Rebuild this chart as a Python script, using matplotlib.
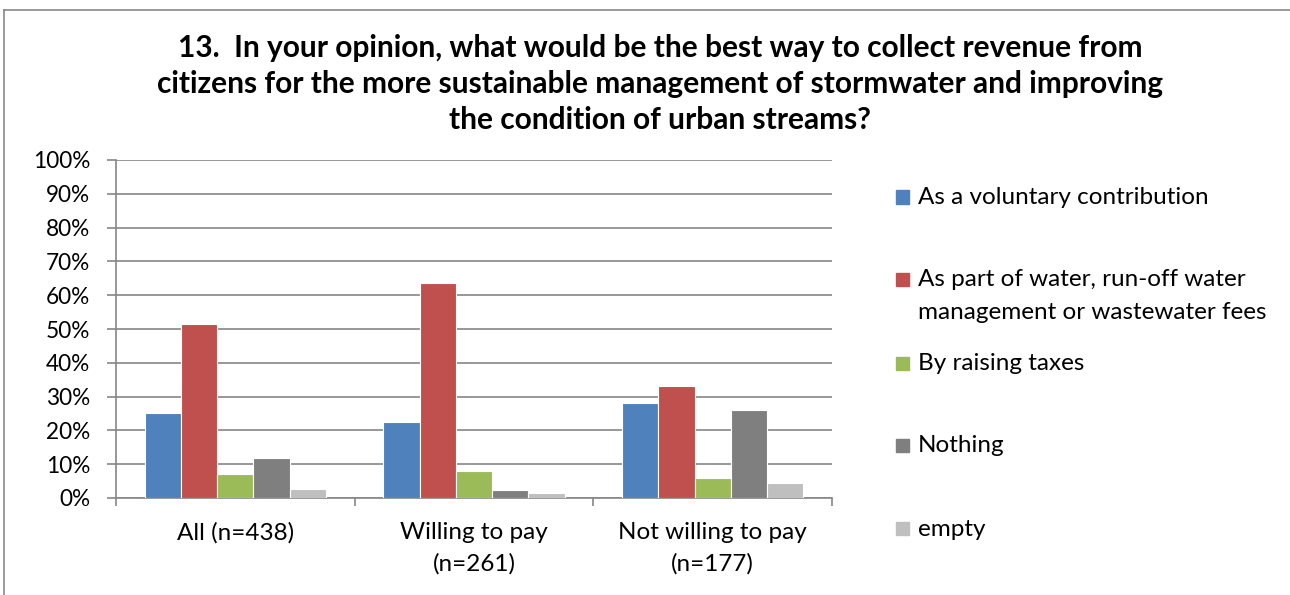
import matplotlib.pyplot as plt
from matplotlib.patches import Rectangle
from matplotlib.lines import Line2D
import numpy as np

plt.rcParams['font.family'] = ['Lato', 'DejaVu Sans']

groups = ["All (n=438)", "Willing to pay\n(n=261)", "Not willing to pay\n(n=177)"]
series = ["As a voluntary contribution",
          "As part of water, run-off water\nmanagement or wastewater fees",
          "By raising taxes",
          "Nothing",
          "empty"]
voluntary = [25.1, 22.6, 28.2]
fees = [51.4, 63.6, 33.0]
taxes = [7.1, 8.0, 5.8]
nothing = [11.9, 2.3, 26.0]
empty = [2.7, 1.5, 4.5]
colors = ["#4F81BD", "#C0504D", "#9BBB59", "#7F7F7F", "#BFBFBF"]

values = [voluntary, fees, taxes, nothing, empty]

W, H = 1290, 595
fig = plt.figure(figsize=(W / 100, H / 100), dpi=100)
ax = fig.add_axes([116 / W, 1 - 498 / H, (832 - 116) / W, (498 - 160) / H])

grey = "#868686"
x = np.arange(len(groups))
w = 0.152
for i, (vals, c) in enumerate(zip(values, colors)):
    ax.bar(x + (i - 2) * w, vals, w, color=c, edgecolor="white", linewidth=0.8, zorder=3)

ax.set_xlim(-0.5, 2.5)
ax.set_ylim(0, 100)
ax.set_yticks(np.arange(0, 101, 10))
ax.set_yticklabels([f"{v}%" for v in range(0, 101, 10)])
ax.yaxis.grid(True, color=grey, linewidth=1.2, zorder=0)
ax.set_axisbelow(True)

ax.set_xticks(x)
ax.set_xticklabels(groups, linespacing=1.62)
ax.set_xticks(np.arange(-0.5, 3, 1), minor=True)
ax.tick_params(axis="x", which="major", length=0, pad=17, labelsize=17.5)
ax.tick_params(axis="x", which="minor", length=6, color=grey, width=1.2, direction="out")
ax.tick_params(axis="y", length=6.5, color=grey, width=1.2, pad=12, labelsize=16.3)

for s in ["top", "right"]:
    ax.spines[s].set_visible(False)
for s in ["left", "bottom"]:
    ax.spines[s].set_color(grey)
    ax.spines[s].set_linewidth(1.2)

fig.text(660 / W, 1 - 84 / H,
         "13.  In your opinion, what would be the best way to collect revenue from\n"
         "citizens for the more sustainable management of stormwater and improving\n"
         "the condition of urban streams?",
         ha="center", va="center", fontsize=21.5, fontweight="bold", linespacing=1.36)

# legend drawn by hand, square aligned with the first text line
leg_y = [197, 279, 363, 445, 528]
for name, c, yy in zip(series, colors, leg_y):
    fig.patches.append(Rectangle((896 / W, 1 - (yy + 6.5) / H), 13 / W, 13 / H,
                                 transform=fig.transFigure, color=c))
    fig.text(918 / W, 1 - (yy - 9.5) / H, name, ha="left", va="top",
             fontsize=17.5, linespacing=1.66)

# chart frame
fig.lines.append(Line2D([4 / W, 4 / W], [0, 1 - 10 / H], transform=fig.transFigure,
                        color="#898989", linewidth=1.2))
fig.lines.append(Line2D([4 / W, 1], [1 - 10 / H, 1 - 10 / H], transform=fig.transFigure,
                        color="#898989", linewidth=1.2))

fig.savefig("out.png", dpi=100)
